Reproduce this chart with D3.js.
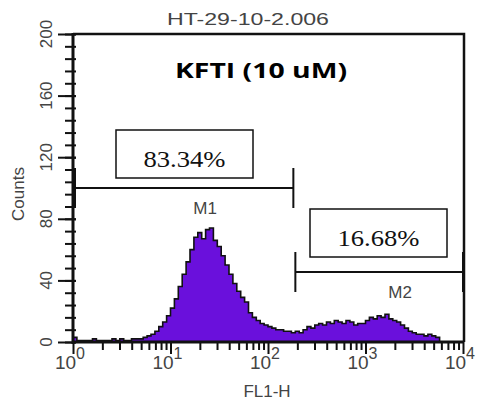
<!DOCTYPE html>
<html>
<head>
<meta charset="utf-8">
<script src="https://cdn.jsdelivr.net/npm/d3@7"></script>
<style>
  body { margin: 0; background: #fff; }
  svg { display: block; }
</style>
</head>
<body>
<svg id="chart" width="480" height="404"></svg>
<script>
// histogram counts, 100 log bins from 10^0 to 10^4 (step 0.04 decades)
var counts = [
  3, 1, 1, 1, 1, 2, 1, 1, 1, 1,
  2, 1, 2, 1, 1, 2, 2, 2, 3, 4,
  5, 7, 10, 13, 17, 22, 28, 36, 44, 52,
  60, 68, 71, 67, 73, 74, 66, 62, 56, 50,
  44, 38, 33, 29, 26, 19, 16, 14, 12, 11,
  10, 9, 8, 8, 7, 7, 6, 7, 6, 8,
  10, 9, 11, 12, 11, 13, 12, 14, 13, 12,
  14, 13, 11, 12, 12, 14, 16, 15, 17, 16,
  18, 15, 14, 13, 11, 9, 7, 6, 5, 5,
  4, 5, 4, 3, 0, 0, 0, 0, 0, 0
];
var binStep = 0.04;

var xTickValues = [1, 10, 100, 1000, 10000];
var xExponents = ["0", "1", "2", "3", "4"];
var yTickValues = [0, 40, 80, 120, 160, 200];
var yMinorValues = d3.range(0, 201, 8);

var gateNames = ["M1", "M2"];
var gateStart = [1, 182];
var gateEnd = [182, 10000];
var gatePercent = ["83.34%", "16.68%"];

var title = "HT-29-10-2.006";
var subtitle = "KFTI (10 uM)";
var xLabel = "FL1-H";
var yLabel = "Counts";

var svg = d3.select("#chart");
var plotL = 73, plotR = 463, plotT = 34, plotB = 342;

var x = d3.scaleLog().domain([1, 10000]).range([plotL, plotR]);
var y = d3.scaleLinear().domain([0, 200]).range([plotB, plotT]);

var bins = counts.map(function(c, i) {
  return { x0: Math.pow(10, i * binStep), count: c };
});
bins.push({ x0: 10000, count: 0 });

// histogram fill
var area = d3.area()
  .curve(d3.curveStepAfter)
  .x(function(d) { return x(d.x0); })
  .y0(y(0))
  .y1(function(d) { return y(d.count); });

svg.append("path")
  .datum(bins)
  .attr("fill", "#6a10dc")
  .attr("d", area);

var line = d3.line()
  .curve(d3.curveStepAfter)
  .x(function(d) { return x(d.x0); })
  .y(function(d) { return y(d.count); });

svg.append("path")
  .datum(bins)
  .attr("fill", "none")
  .attr("stroke", "#111")
  .attr("stroke-width", 1.6)
  .attr("d", line);

// frame top and right
svg.append("path")
  .attr("fill", "none")
  .attr("stroke", "#111")
  .attr("stroke-width", 2.5)
  .attr("d", "M" + plotL + "," + plotT + "H" + (plotR + 1) + "V" + plotB);

// y axis
var yAxis = svg.append("g")
  .attr("transform", "translate(" + plotL + ",0)")
  .call(d3.axisLeft(y).tickValues(yMinorValues).tickSize(8).tickFormat(""));
yAxis.selectAll(".tick line").attr("x1", 3).attr("stroke", "#111").attr("stroke-width", 2);
yAxis.select(".domain").remove();

var yMajor = svg.append("g")
  .attr("transform", "translate(" + plotL + ",0)")
  .call(d3.axisLeft(y).tickValues(yTickValues).tickSize(15).tickFormat(""));
yMajor.selectAll(".tick line").attr("x1", 3).attr("stroke", "#111").attr("stroke-width", 2);
yMajor.select(".domain").remove();

svg.append("line")
  .attr("x1", plotL).attr("x2", plotL)
  .attr("y1", y(200) - 1).attr("y2", y(0) + 2)
  .attr("stroke", "#111").attr("stroke-width", 3);

svg.append("g").selectAll("text")
  .data(yTickValues)
  .join("text")
  .attr("transform", function(d) { return "translate(52," + y(d) + ") rotate(-90)"; })
  .attr("text-anchor", "middle")
  .attr("font-family", "Liberation Sans, Arial, sans-serif")
  .attr("font-size", 17)
  .attr("fill", "#444")
  .text(function(d) { return d; });

svg.append("text")
  .attr("transform", "translate(24,194) rotate(-90)")
  .attr("text-anchor", "middle")
  .attr("font-family", "Liberation Sans, Arial, sans-serif")
  .attr("font-size", 17)
  .attr("fill", "#444")
  .text(yLabel);

// x axis
var xMinorValues = [];
xTickValues.slice(0, -1).forEach(function(d) {
  for (var k = 2; k < 10; k++) xMinorValues.push(d * k);
});

var xMinor = svg.append("g")
  .attr("transform", "translate(0," + plotB + ")")
  .call(d3.axisBottom(x).tickValues(xMinorValues).tickSize(8).tickFormat(""));
xMinor.selectAll(".tick line").attr("stroke", "#111").attr("stroke-width", 2);
xMinor.select(".domain").remove();

var xMajor = svg.append("g")
  .attr("transform", "translate(0," + plotB + ")")
  .call(d3.axisBottom(x).tickValues(xTickValues).tickSize(12).tickFormat(""));
xMajor.selectAll(".tick line").attr("stroke", "#111").attr("stroke-width", 2);
xMajor.select(".domain").remove();

svg.append("line")
  .attr("x1", plotL - 1).attr("x2", plotR + 1)
  .attr("y1", plotB).attr("y2", plotB)
  .attr("stroke", "#111").attr("stroke-width", 3);

var xLabels = svg.append("g").selectAll("text")
  .data(xTickValues)
  .join("text")
  .attr("x", function(d) { return x(d) - 3; })
  .attr("y", 369)
  .attr("text-anchor", "middle")
  .attr("font-family", "Liberation Sans, Arial, sans-serif")
  .attr("font-size", 19)
  .attr("fill", "#444");
xLabels.append("tspan").text("10");
xLabels.append("tspan")
  .attr("dy", -10)
  .attr("font-size", 16)
  .text(function(d, i) { return xExponents[i]; });

svg.append("text")
  .attr("x", 267).attr("y", 397)
  .attr("text-anchor", "middle")
  .attr("font-family", "Liberation Sans, Arial, sans-serif")
  .attr("font-size", 17)
  .attr("fill", "#444")
  .text(xLabel);

// titles
svg.append("text")
  .attr("x", 248).attr("y", 25)
  .attr("text-anchor", "middle")
  .attr("font-family", "Liberation Sans, Arial, sans-serif")
  .attr("font-size", 17)
  .attr("fill", "#444")
  .attr("textLength", 162)
  .attr("lengthAdjust", "spacingAndGlyphs")
  .text(title);

svg.append("text")
  .attr("x", 261).attr("y", 78)
  .attr("text-anchor", "middle")
  .attr("font-family", "Open Sans, sans-serif")
  .attr("font-weight", "bold")
  .attr("font-size", 21)
  .attr("fill", "#000")
  .attr("textLength", 172)
  .attr("lengthAdjust", "spacingAndGlyphs")
  .text(subtitle);

// gate markers
var gateY = [188, 272];
var labelY = [214, 298];
var boxY = [130, 209];
var boxX = [116, 310];
var boxW = 137, boxH = 48;

gateNames.forEach(function(name, i) {
  var g = svg.append("g");
  var x0 = x(gateStart[i]) + 2, x1 = x(gateEnd[i]);
  g.append("path")
    .attr("fill", "none")
    .attr("stroke", "#111")
    .attr("stroke-width", 2)
    .attr("d", "M" + x0 + "," + (gateY[i] - 20) + "V" + (gateY[i] + 20) +
      "M" + x0 + "," + gateY[i] + "H" + x1 +
      "M" + x1 + "," + (gateY[i] - 20) + "V" + (gateY[i] + 20));
  g.append("text")
    .attr("x", (x0 + x1) / 2 + 21)
    .attr("y", labelY[i])
    .attr("text-anchor", "middle")
    .attr("font-family", "Liberation Sans, Arial, sans-serif")
    .attr("font-size", 17)
    .attr("fill", "#444")
    .text(name);
  g.append("rect")
    .attr("x", boxX[i]).attr("y", boxY[i])
    .attr("width", boxW).attr("height", boxH)
    .attr("fill", "#fff")
    .attr("stroke", "#111")
    .attr("stroke-width", 1.5);
  g.append("text")
    .attr("x", boxX[i] + boxW / 2)
    .attr("y", boxY[i] + 37)
    .attr("text-anchor", "middle")
    .attr("font-family", "Liberation Serif, Times New Roman, serif")
    .attr("font-size", 24)
    .attr("fill", "#111")
    .attr("textLength", 82)
    .attr("lengthAdjust", "spacingAndGlyphs")
    .text(gatePercent[i]);
});
</script>
</body>
</html>
